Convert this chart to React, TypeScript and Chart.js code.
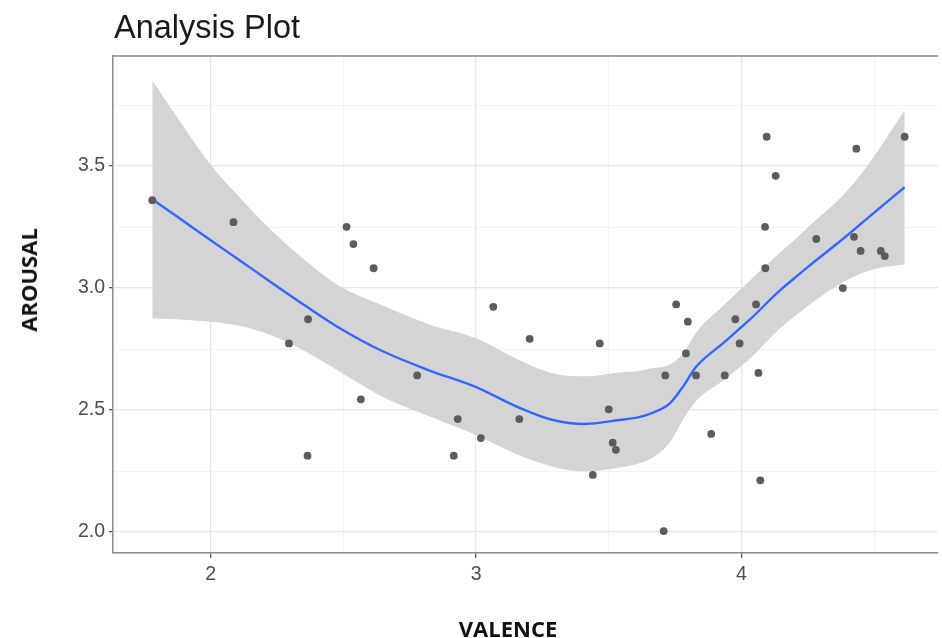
import React, { useEffect, useRef } from "react";
import { Chart, registerables } from "chart.js";

Chart.register(...registerables);

// Observations (valence, arousal)
const valence = [
  1.78, 2.086, 2.295, 2.367, 2.365, 2.512, 2.538, 2.566, 2.614, 2.778,
  2.916, 2.931, 3.018, 3.065, 3.163, 3.202, 3.44, 3.466, 3.5, 3.515,
  3.527, 3.707, 3.713, 3.754, 3.791, 3.798, 3.829, 3.886, 3.937, 3.977,
  3.993, 4.055, 4.064, 4.071, 4.089, 4.09, 4.095, 4.129, 4.282, 4.382,
  4.424, 4.433, 4.449, 4.525, 4.54, 4.615,
];
const arousal = [
  3.36, 3.27, 2.773, 2.872, 2.313, 3.251, 3.18, 2.544, 3.081, 2.642,
  2.313, 2.463, 2.385, 2.923, 2.463, 2.792, 2.234, 2.773, 2.503, 2.366,
  2.337, 2.004, 2.642, 2.933, 2.732, 2.862, 2.642, 2.402, 2.642, 2.872,
  2.773, 2.933, 2.652, 2.212, 3.251, 3.081, 3.62, 3.46, 3.201, 3.0,
  3.21, 3.571, 3.152, 3.152, 3.131, 3.62,
];

// Smoothed fit and its confidence band
const fitX = [
  1.78, 1.88, 2.0, 2.11, 2.23, 2.36, 2.49, 2.64, 2.82, 3.0, 3.16, 3.29, 3.41,
  3.54, 3.61, 3.66, 3.73, 3.78, 3.83, 3.93, 4.03, 4.14, 4.21, 4.26, 4.39, 4.49, 4.615,
];
const fitY = [
  3.364, 3.288, 3.196, 3.113, 3.022, 2.925, 2.833, 2.745, 2.664, 2.594, 2.511, 2.459, 2.443,
  2.459, 2.47, 2.486, 2.527, 2.596, 2.678, 2.773, 2.869, 2.985, 3.05, 3.095, 3.208, 3.3, 3.413,
];
const bandUpper = [
  3.852, 3.69, 3.505, 3.37, 3.235, 3.11, 3.005, 2.932, 2.852, 2.794, 2.706, 2.65, 2.638,
  2.654, 2.66, 2.671, 2.687, 2.731, 2.818, 2.926, 3.029, 3.14, 3.207, 3.258, 3.388, 3.525, 3.73,
];
const bandLower = [
  2.876, 2.871, 2.862, 2.845, 2.805, 2.738, 2.655, 2.559, 2.476, 2.398, 2.316, 2.268, 2.248,
  2.264, 2.28, 2.301, 2.367, 2.461, 2.538, 2.62, 2.709, 2.83, 2.893, 2.935, 3.028, 3.075, 3.096,
];

// Axis ticks
const xGrid = [2, 2.5, 3, 3.5, 4, 4.5];
const xLabeled = [2, 3, 4];
const yGrid = [2, 2.25, 2.5, 2.75, 3, 3.25, 3.5, 3.75];
const yLabeled = [2, 2.5, 3, 3.5];

const TITLE = "Analysis Plot";
const X_TITLE = "VALENCE";
const Y_TITLE = "AROUSAL";

export default function App() {
  const ref = useRef<HTMLCanvasElement | null>(null);

  useEffect(() => {
    if (!ref.current) return;
    const topBorder = {
      id: "topBorder",
      afterDraw(chart: any) {
        const { ctx, chartArea: a } = chart;
        ctx.save();
        ctx.strokeStyle = "#8a8a8a";
        ctx.lineWidth = 1.5;
        ctx.beginPath();
        ctx.moveTo(a.left, a.top);
        ctx.lineTo(a.right, a.top);
        ctx.stroke();
        ctx.restore();
      },
    };

    const gridColor = (labeled: number[]) => (c: any) =>
      labeled.includes(c.tick?.value) ? "#E4E4E4" : "#F0F0F0";
    const gridWidth = (labeled: number[]) => (c: any) =>
      labeled.includes(c.tick?.value) ? 1.3 : 0.8;
    const tickColor = (labeled: number[]) => (c: any) =>
      labeled.includes(c.tick?.value) ? "#555555" : "rgba(0,0,0,0)";

    const chart = new Chart(ref.current, {
      type: "scatter",
      data: {
        datasets: [
          {
            type: "scatter",
            data: valence.map((v, i) => ({ x: v, y: arousal[i] })),
            pointRadius: 3.9,
            pointHoverRadius: 3.9,
            backgroundColor: "#5c5c5c",
            borderWidth: 0,
            order: 0,
          },
          {
            type: "line",
            data: fitX.map((v, i) => ({ x: v, y: fitY[i] })),
            borderColor: "#3366FF",
            borderWidth: 2.4,
            pointRadius: 0,
            cubicInterpolationMode: "monotone",
            fill: false,
            order: 1,
          },
          {
            type: "line",
            data: fitX.map((v, i) => ({ x: v, y: bandUpper[i] })),
            borderColor: "rgba(0,0,0,0)",
            borderWidth: 0,
            pointRadius: 0,
            cubicInterpolationMode: "monotone",
            fill: "+1",
            backgroundColor: "#D4D4D4",
            order: 2,
          },
          {
            type: "line",
            data: fitX.map((v, i) => ({ x: v, y: bandLower[i] })),
            borderColor: "rgba(0,0,0,0)",
            borderWidth: 0,
            pointRadius: 0,
            cubicInterpolationMode: "monotone",
            fill: false,
            order: 3,
          },
        ],
      } as any,
      options: {
        animation: false,
        responsive: false,
        devicePixelRatio: 1,
        events: [],
        layout: { padding: { left: 63, top: 56, right: 2, bottom: 45 } },
        plugins: {
          legend: { display: false },
          tooltip: { enabled: false },
          title: { display: false },
        },
        scales: {
          x: {
            type: "linear",
            min: 1.632,
            max: 4.741,
            afterBuildTicks: (s: any) => {
              s.ticks = xGrid.map((v) => ({ value: v }));
            },
            afterFit: (s: any) => {
              s.height = 40;
            },
            grid: {
              color: gridColor(xLabeled),
              lineWidth: gridWidth(xLabeled),
              tickColor: tickColor(xLabeled),
              tickLength: 5,
              drawTicks: true,
            },
            border: { display: true, color: "#8a8a8a", width: 1.5 },
            ticks: {
              autoSkip: false,
              maxRotation: 0,
              padding: 5,
              color: "#4D4D4D",
              font: { family: "Liberation Sans", size: 19.5 },
              callback: (v: any) => (xLabeled.includes(v) ? String(v) : ""),
            },
          },
          y: {
            type: "linear",
            min: 1.914,
            max: 3.951,
            afterBuildTicks: (s: any) => {
              s.ticks = yGrid.map((v) => ({ value: v }));
            },
            afterFit: (s: any) => {
              s.width = 50;
            },
            grid: {
              color: gridColor(yLabeled),
              lineWidth: gridWidth(yLabeled),
              tickColor: tickColor(yLabeled),
              tickLength: 4,
              drawTicks: true,
            },
            border: { display: true, color: "#8a8a8a", width: 1.5 },
            ticks: {
              autoSkip: false,
              padding: 4,
              color: "#4D4D4D",
              font: { family: "Liberation Sans", size: 19.5 },
              callback: (v: any) => (yLabeled.includes(v) ? Number(v).toFixed(1) : ""),
            },
          },
        },
      } as any,
      plugins: [topBorder],
    });
    return () => chart.destroy();
  }, []);

  return (
    <div style={{ position: "absolute", left: 0, top: 0, width: 942, height: 638, background: "#fff" }}>
      <canvas ref={ref} width={942} height={638} style={{ display: "block", width: 942, height: 638 }} />
      <div
        style={{
          position: "absolute",
          left: 114,
          top: 11,
          fontFamily: "Liberation Sans, Arial, sans-serif",
          fontSize: 32.5,
          lineHeight: "32px",
          color: "#1a1a1a",
          whiteSpace: "nowrap",
        }}
      >
        {TITLE}
      </div>
      <div
        style={{
          position: "absolute",
          left: 28,
          top: 280,
          transform: "translate(-50%, -50%) rotate(-90deg)",
          fontFamily: "Open Sans, sans-serif",
          fontWeight: 700,
          fontSize: 22,
          color: "#111",
          whiteSpace: "nowrap",
        }}
      >
        {Y_TITLE}
      </div>
      <div
        style={{
          position: "absolute",
          left: 508,
          top: 628,
          transform: "translate(-50%, -50%)",
          fontFamily: "Open Sans, sans-serif",
          fontWeight: 700,
          fontSize: 22,
          color: "#111",
          whiteSpace: "nowrap",
        }}
      >
        {X_TITLE}
      </div>
    </div>
  );
}
